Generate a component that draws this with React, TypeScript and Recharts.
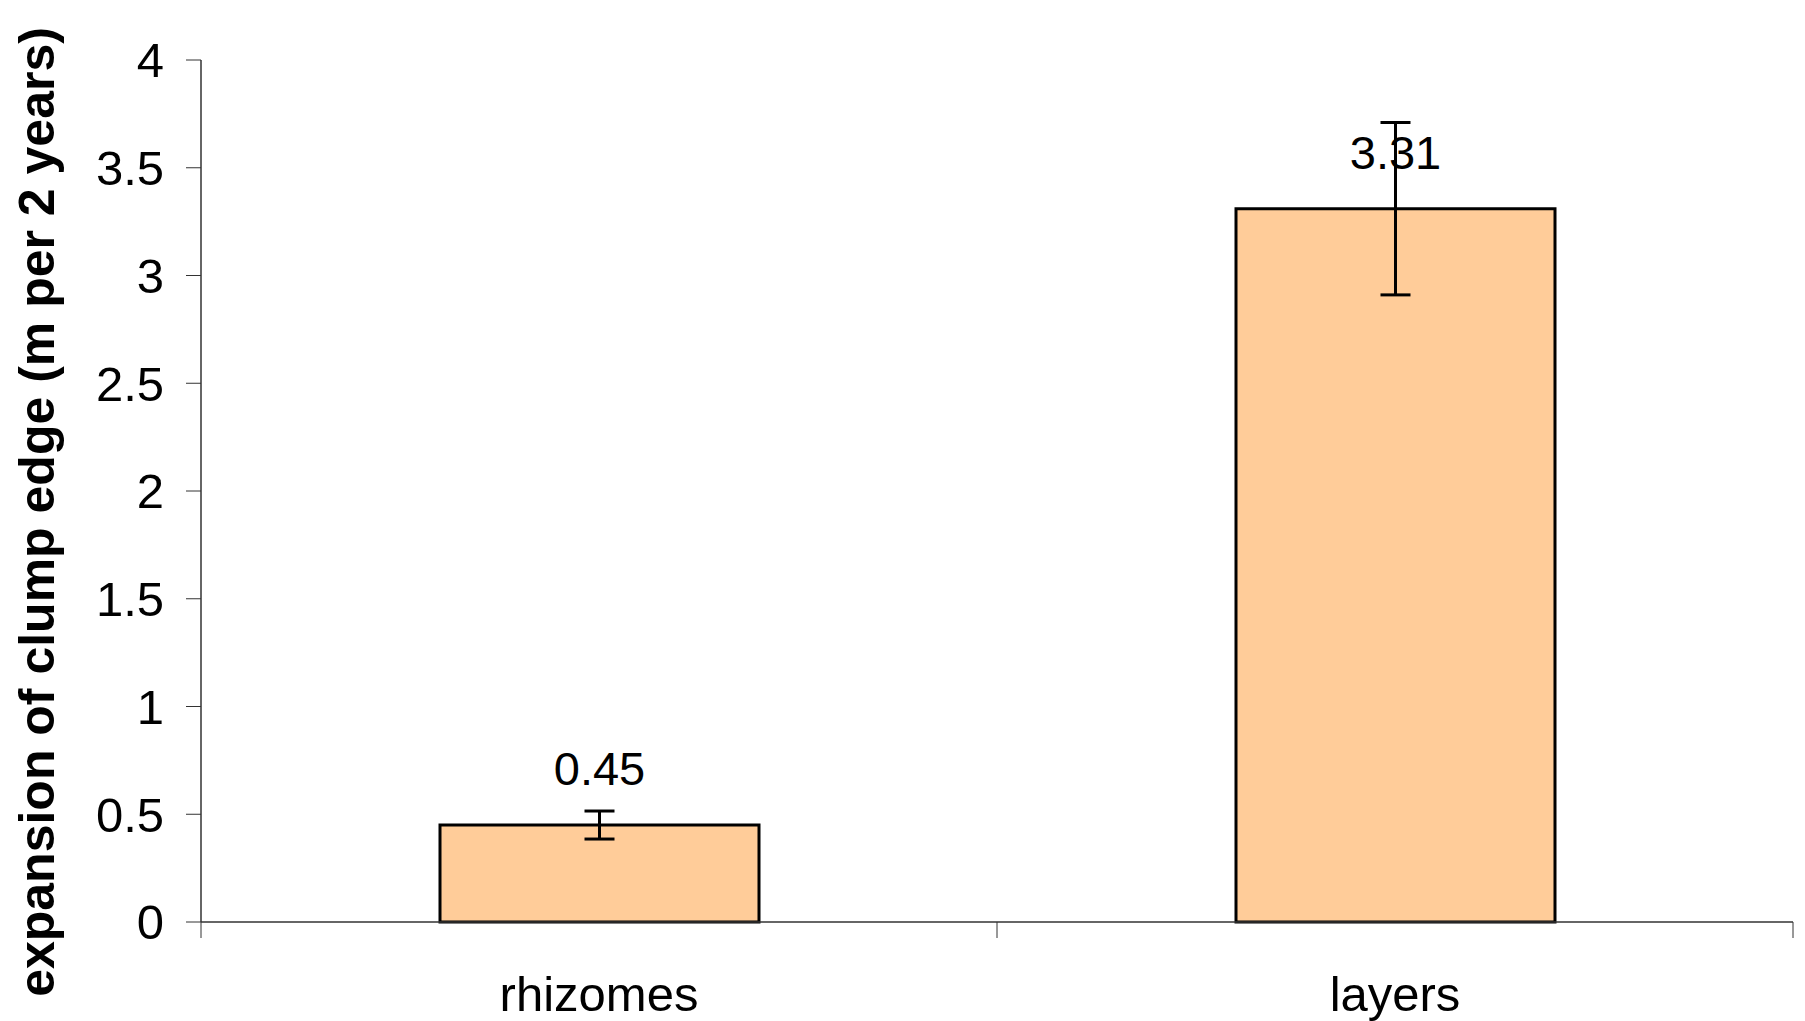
import React from 'react';
import { BarChart, Bar, XAxis, YAxis, ErrorBar, LabelList, Label } from 'recharts';

const categories = ['rhizomes', 'layers'];
const values = [0.45, 3.31];
const errors = [0.065, 0.4];
const yTicks = [0, 0.5, 1, 1.5, 2, 2.5, 3, 3.5, 4];
const edgeTicks = [0, 1, 2];

const data = categories.map((name, i) => ({ name, pos: i + 0.5, value: values[i], err: errors[i] }));

const font = '"Liberation Sans", Arial, sans-serif';

// rotated bold title on the far left
function YTitle() {
  return (
    <text
      x={54}
      y={512}
      transform="rotate(-90 54 512)"
      textAnchor="middle"
      fontFamily={font}
      fontWeight="bold"
      fontSize={50}
      fill="#000"
    >
      expansion of clump edge (m per 2 years)
    </text>
  );
}

export default function App() {
  return (
    <div style={{ position: 'absolute', left: 0, top: 0, width: 1805, height: 1021, background: '#fff' }}>
      <BarChart
        width={1805}
        height={1021}
        data={data}
        margin={{ top: 60, right: 12, bottom: 0, left: 0 }}
      >
        {/* boundary ticks between categories, Excel style */}
        <XAxis
          xAxisId="a_edge"
          dataKey="pos"
          type="number"
          domain={[0, 2]}
          ticks={edgeTicks}
          interval={0}
          allowDataOverflow
          height={1}
          tickSize={16}
          tickFormatter={() => ''}
          stroke="#333"
          axisLine={{ stroke: '#333', strokeWidth: 1.5 }}
        />
        <XAxis
          xAxisId="b_cat"
          dataKey="name"
          height={98}
          axisLine={false}
          tickLine={false}
          tickSize={16}
          tickMargin={37}
          tick={{ fill: '#000', fontSize: 49, fontFamily: font }}
        />
        <YAxis
          width={201}
          domain={[0, 4]}
          ticks={yTicks}
          interval={0}
          tickSize={15}
          tickMargin={22}
          stroke="#333"
          axisLine={{ stroke: '#333', strokeWidth: 1.5 }}
          tick={{ fill: '#000', fontSize: 49, fontFamily: font }}
        >
          <Label content={<YTitle />} />
        </YAxis>
        <Bar
          xAxisId="b_cat"
          dataKey="value"
          fill="#FFCC99"
          stroke="#000"
          strokeWidth={3}
          barSize={319}
          isAnimationActive={false}
        >
          <LabelList
            dataKey="value"
            position="top"
            offset={40}
            fill="#000"
            fontSize={47}
            fontFamily={font}
          />
          <ErrorBar dataKey="err" width={15} stroke="#000" strokeWidth={3} direction="y" />
        </Bar>
      </BarChart>
    </div>
  );
}
